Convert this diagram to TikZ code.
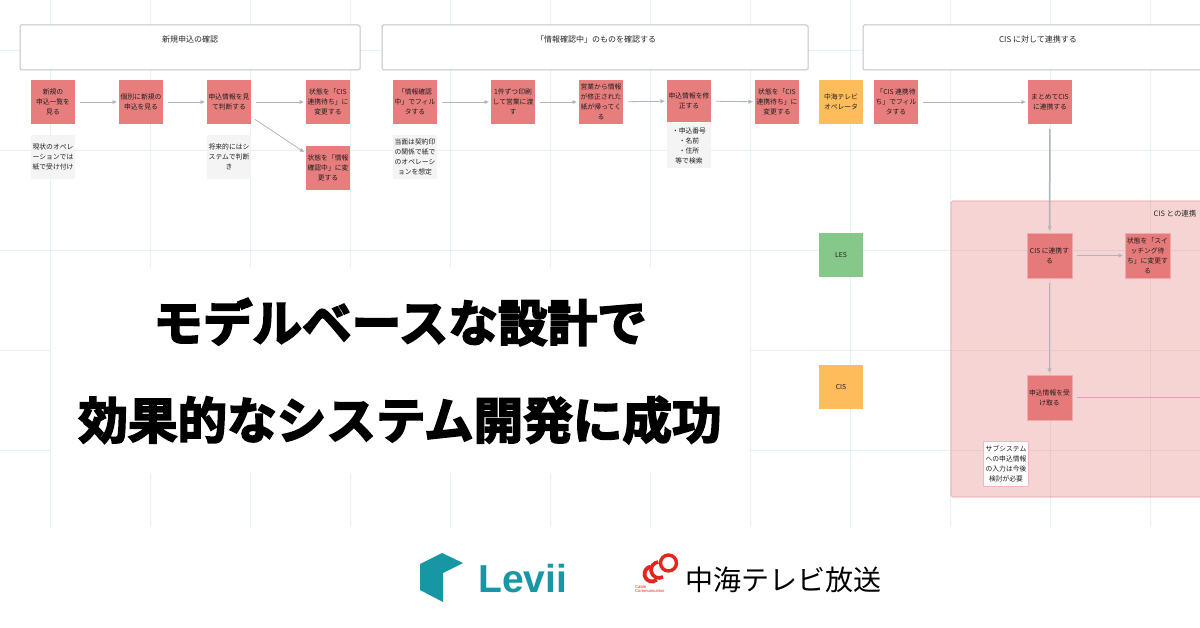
\documentclass[tikz,border=0pt]{standalone}
\usepackage{fontspec}
\setmainfont{Noto Sans CJK JP}
\newfontfamily\heavyfont[FakeBold=3.6]{Noto Sans CJK JP Bold}
\newfontfamily\logofont{Liberation Sans}
\usetikzlibrary{positioning,arrows.meta}
\definecolor{gridcol}{HTML}{E4F1F6}
\definecolor{taskred}{HTML}{E57373}
\definecolor{actororange}{HTML}{FFB74D}
\definecolor{actorgreen}{HTML}{7CC47F}
\definecolor{notegray}{HTML}{F4F4F4}
\definecolor{framegray}{HTML}{BFC4C7}
\definecolor{arrowgray}{HTML}{B0B7BC}
\definecolor{leviiteal}{HTML}{1797A6}
\definecolor{ccred}{HTML}{E0281E}

\begin{document}
\begin{tikzpicture}[
  x=1pt, y=-1pt,
  font=\fontsize{6.8}{10}\selectfont,
  node distance=44pt,
  base/.style={
    rectangle, inner sep=0pt, outer sep=0pt, align=center,
    minimum width=44pt, minimum height=44pt, text=black!88
  },
  task/.style={base, fill=taskred, fill opacity=.92, text opacity=1},
  taskbig/.style={task, draw=taskred!60, line width=.5pt, minimum width=45pt, minimum height=45pt},
  actorO/.style={base, fill=actororange, fill opacity=.92, text opacity=1},
  actorG/.style={base, fill=actorgreen, fill opacity=.92, text opacity=1},
  note/.style={base, fill=notegray, fill opacity=.92, text opacity=1},
  phase/.style={
    rectangle, rounded corners=1.5pt, draw=framegray, line width=1pt, fill=white,
    fill opacity=.9, text opacity=1, inner sep=0pt, minimum height=45pt
  },
  caption/.style={font=\fontsize{8}{10}\selectfont, text=black!85, inner sep=0pt},
  arr/.style={-{Latex[length=4.5pt,width=4.5pt]}, draw=arrowgray, line width=.8pt,
    shorten <=5pt, shorten >=2pt},
  headline/.style={font=\heavyfont\fontsize{49.6}{50}\selectfont, inner sep=0pt, text=black}
]
\useasboundingbox (0,0) rectangle (1200,628);
\fill[white] (0,0) rectangle (1200,628);

% grid
\foreach \gx in {50,150,...,1150}
  \draw[gridcol, line width=.8pt] (\gx,0) -- (\gx,527);
\foreach \gy in {50,150,...,450}
  \draw[gridcol, line width=.8pt] (0,\gy) -- (1200,\gy);

% red area
\fill[taskred, fill opacity=.3, rounded corners=1.5pt] (951,201) rectangle (1215,497);
\draw[taskred!70, line width=.7pt, rounded corners=1.5pt] (1215,201) -- (951,201) -- (951,497) -- (1215,497);

% phases
\node[phase, minimum width=340pt] (ph1) at (190,47.5) {};
\node[phase, minimum width=426pt] (ph2) at (595,47.5) {};
\node[phase, minimum width=370pt] (ph3) at (1048,47.5) {};
\node[caption] (ph1t) at (190,39) {新規申込の確認};
\node[caption] (ph2t) at (596,39) {「情報確認中」のものを確認する};
\node[caption] (ph3t) at (1038,39) {CIS に対して連携する};

% first phase
\node[task] (a1) at (53,102) {新規の\\申込一覧を\\見る};
\node[task, right=of a1] (a2) {個別に新規の\\申込を見る};
\node[task, right=of a2] (a3) {申込情報を見\\て判断する};
\node[task, right=55pt of a3] (a4) {状態を「CIS\\連携待ち」に\\変更する};
\node[task, below=22pt of a4] (a5) {状態を「情報\\確認中」に変\\更する};
\node[note, below=11pt of a1] (n1) {現状のオペレ\\ーションでは\\紙で受け付け};
\node[note, below=11pt of a3] (n2) {将来的にはシ\\ステムで判断\\き};

% second phase
\node[task] (b1) at (415,102) {「情報確認\\中」でフィル\\タする};
\node[task, right=54pt of b1] (b2) {1件ずつ印刷\\して営業に渡\\す};
\node[task, right=of b2] (b3) {営業から情報\\が修正された\\紙が帰ってく\\る};
\node[task, right=of b3, minimum height=42pt, yshift=1pt] (b4) {申込情報を修\\正する};
\node[task, right=of b4, yshift=-1pt] (b5) {状態を「CIS\\連携待ち」に\\変更する};
\node[note, below=1pt of b4, minimum height=45pt] (n4) {・申込番号\\・名前\\・住所\\等で検索};
\node[note, below=11pt of b1] (n3) {当面は契約印\\の関係で紙で\\のオペレーシ\\ョンを想定};

% third phase
\node[actorO] (op) at (841,102) {中海テレビ\\オペレータ};
\node[task, right=11pt of op] (c1) {「CIS 連携待\\ち」でフィル\\タする};
\node[task, right=110pt of c1] (c2) {まとめてCIS\\に連携する};
\node[actorG, below=109pt of op] (les) {LES};
\node[actorO, below=88pt of les] (cis) {CIS};
\node[caption, font=\fontsize{7.4}{10}\selectfont, anchor=west] (areat) at (1153.5,214) {CIS との連携};

\node[taskbig] (d1) at (1049.5,255.5) {CIS に連携す\\る};
\node[taskbig, right=53pt of d1] (d2) {状態を「スイ\\ッチング待\\ち」に変更す\\る};
\node[taskbig, below=97pt of d1] (d3) {申込情報を受\\け取る};
\node[base, fill=white, draw=taskred!50, line width=.7pt, minimum width=45pt, minimum height=45pt] (n5) at (1006,464) {サブシステム\\への申込情報\\の入力は今後\\検討が必要};
\coordinate (edgeR) at (1200,397);

% connectors
\draw[arr] (a1) -- (a2);
\draw[arr] (a2) -- (a3);
\draw[arr] (a3) -- (a4);
\draw[arr] (a3) -- (a5);
\draw[arr] (b1) -- (b2);
\draw[arr] (b2) -- (b3);
\draw[arr] (b3) -- (b4);
\draw[arr] (b4) -- (b5);
\draw[arr] (c1) -- (c2);
\draw[arr, line width=1.5pt] (c2) -- (d1);
\draw[arr] (d1) -- (d2);
\draw[arr, line width=1.5pt] (d1) -- (d3);
\draw[arr, -, shorten >=0pt] (d3.east |- edgeR) -- (edgeR);

% white panel + headline
\fill[white] (51,268) rectangle (749,473);
\node[headline] (head1) at (400,322) {モデルベースな設計で};
\node[headline] (head2) at (400,420) {効果的なシステム開発に成功};

% logos
\fill[leviiteal] (420,564) -- (442,553) -- (463,563) -- (443,573) -- (443,602) -- (420,590) -- cycle;
\node[font=\logofont\bfseries\fontsize{39}{39}\selectfont, text=leviiteal, anchor=base west, inner sep=0pt] (levii) at (478,592) {Levii};
\node[font=\fontsize{28}{28}\selectfont, text=black, anchor=base west, inner sep=0pt] (chukai) at (685,590) {中海テレビ放送};
\draw[ccred, line width=3.4pt] (668.5,563) circle (8pt);
\draw[ccred, line width=3.6pt, shift={(659,570)}] (95:8pt) arc[start angle=95, end angle=300, radius=8pt];
\draw[ccred, line width=3.8pt, shift={(652,574)}] (100:7.5pt) arc[start angle=100, end angle=310, radius=7.5pt];
\node[font=\logofont\fontsize{4.2}{4.6}\selectfont, text=ccred, align=left, anchor=north west, inner sep=0pt] (cable) at (635,585) {Cable\\Communication};
\end{tikzpicture}
\end{document}
